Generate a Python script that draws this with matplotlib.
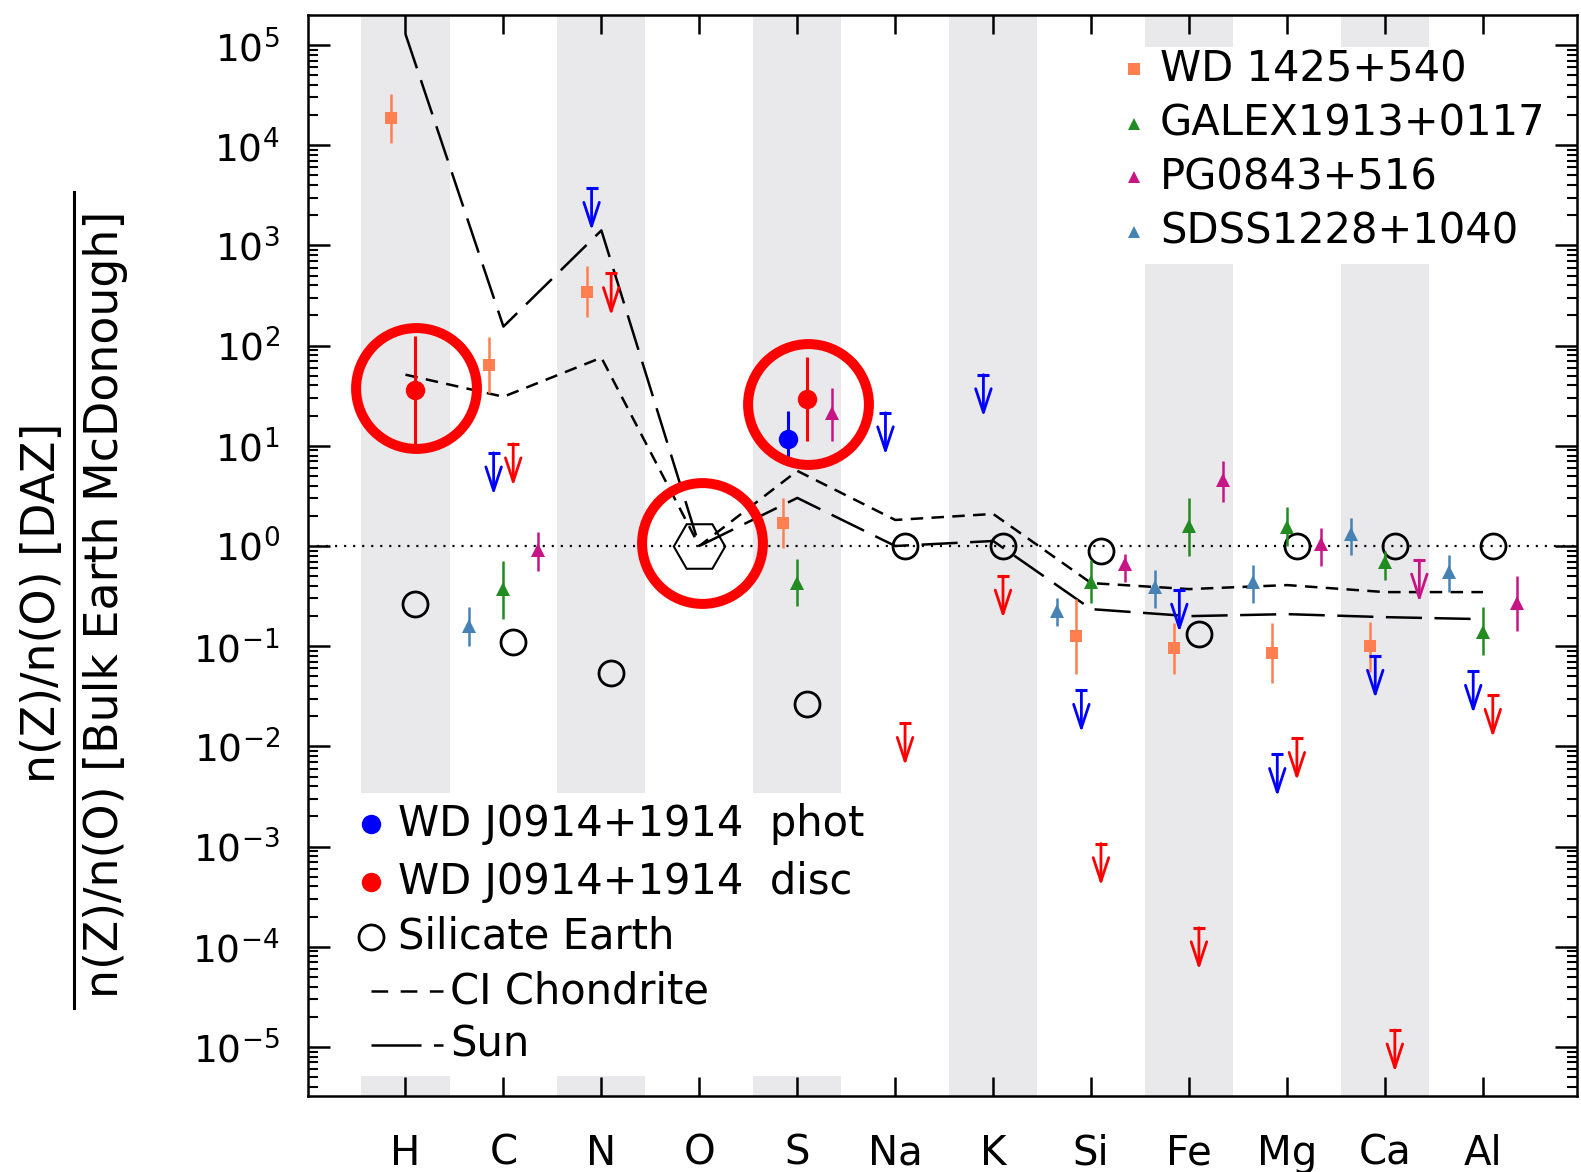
import numpy as np
import matplotlib
matplotlib.use('Agg')
import matplotlib.pyplot as plt
from matplotlib.lines import Line2D
from matplotlib.patches import Rectangle
from matplotlib.ticker import LogLocator, NullFormatter, LogFormatterMathtext, FixedLocator

plt.rcParams['font.family'] = ['DejaVu Sans']
plt.rcParams['mathtext.default'] = 'regular'
plt.rcParams['lines.scale_dashes'] = False

# element order along the x axis
elements = ['H', 'C', 'N', 'O', 'S', 'Na', 'K', 'Si', 'Fe', 'Mg', 'Ca', 'Al']
banded = ['H', 'N', 'S', 'K', 'Fe', 'Ca']

# all values are log10 of the ratio
ci_chondrite = [1.71, 1.49, 1.88, 0.0, 0.75, 0.26, 0.32, -0.37, -0.43, -0.39, -0.46, -0.46]
sun = [5.11, 2.19, 3.15, 0.0, 0.48, 0.0, 0.05, -0.63, -0.70, -0.68, -0.71, -0.73]

earth_el = ['H', 'C', 'N', 'S', 'Na', 'K', 'Si', 'Fe', 'Mg', 'Ca', 'Al']
earth_log = [-0.58, -0.96, -1.27, -1.58, 0.0, 0.0, -0.05, -0.88, 0.0, 0.0, 0.0]

# WD J0914+1914 disc
disc_el = ['H', 'S']
disc_log = [1.56, 1.47]
disc_hi = [0.54, 0.42]
disc_lo = [0.55, 0.42]
disc_lim_el = ['C', 'N', 'Na', 'K', 'Si', 'Fe', 'Mg', 'Ca', 'Al']
disc_lim = [1.02, 2.72, -1.77, -0.30, -2.97, -3.81, -1.92, -4.83, -1.49]

# WD J0914+1914 phot
phot_el = ['S']
phot_log = [1.07]
phot_hi = [0.28]
phot_lo = [0.20]
phot_lim_el = ['C', 'N', 'Na', 'K', 'Si', 'Fe', 'Mg', 'Ca', 'Al']
phot_lim = [0.93, 3.57, 1.33, 1.71, -1.44, -0.44, -2.08, -1.10, -1.25]

# WD 1425+540
wd1425_el = ['H', 'C', 'N', 'S', 'Si', 'Fe', 'Mg', 'Ca']
wd1425_log = [4.27, 1.81, 2.54, 0.23, -0.90, -1.02, -1.07, -1.00]
wd1425_hi = [0.24, 0.28, 0.25, 0.25, 0.37, 0.25, 0.30, 0.24]
wd1425_lo = [0.25, 0.28, 0.25, 0.25, 0.38, 0.26, 0.30, 0.26]

# GALEX1913+0117
galex_el = ['C', 'S', 'Si', 'Fe', 'Mg', 'Ca', 'Al']
galex_log = [-0.43, -0.37, -0.36, 0.20, 0.19, -0.16, -0.86]
galex_hi = [0.28, 0.24, 0.22, 0.28, 0.20, 0.11, 0.25]
galex_lo = [0.30, 0.23, 0.21, 0.30, 0.19, 0.18, 0.23]

# PG0843+516
pg_el = ['C', 'S', 'Si', 'Fe', 'Mg', 'Al']
pg_log = [-0.04, 1.33, -0.18, 0.66, 0.02, -0.57]
pg_hi = [0.18, 0.25, 0.10, 0.19, 0.16, 0.27]
pg_lo = [0.21, 0.28, 0.18, 0.22, 0.22, 0.28]
pg_lim_el = ['Ca']
pg_lim = [-0.14]

# SDSS1228+1040
sdss_el = ['C', 'Si', 'Fe', 'Mg', 'Ca', 'Al']
sdss_log = [-0.80, -0.65, -0.41, -0.36, 0.12, -0.26]
sdss_hi = [0.19, 0.13, 0.17, 0.17, 0.16, 0.17]
sdss_lo = [0.20, 0.15, 0.21, 0.21, 0.21, 0.20]

# red rings drawn round highlighted points
ring_el = ['H', 'O', 'S']
ring_log = [1.575, 0.035, 1.42]
ring_dx = [0.11, 0.03, 0.11]

decades = list(range(-5, 6))

xpos = {e: i for i, e in enumerate(elements)}

fig = plt.figure(figsize=(15.81, 11.72), dpi=100)
ax = fig.add_axes([0.1945, 0.0648, 0.803, 0.9224])
ax.set_yscale('log')

for e in banded:
    ax.axvspan(xpos[e] - 0.45, xpos[e] + 0.45, color='#e9e9ec', lw=0, zorder=0)
# legend areas blank out the bands
ax.add_patch(Rectangle((0, 0.0187), 0.49, 0.2612, transform=ax.transAxes,
                       color='white', lw=0, zorder=0.5))
ax.add_patch(Rectangle((0.63, 0.7696), 0.37, 0.2005, transform=ax.transAxes,
                       color='white', lw=0, zorder=0.5))

ax.axhline(1, color='black', lw=1.6, dashes=(1.5, 5), zorder=1)

xs = np.arange(len(elements))
ax.plot(xs, 10.0 ** np.array(ci_chondrite), color='black', lw=1.8, dashes=(9, 6), zorder=2)
ax.plot(xs, 10.0 ** np.array(sun), color='black', lw=1.8, dashes=(26, 9), zorder=2)

ax.plot(xpos['O'], 1.0, marker='H', ms=37, mfc='none', mec='black', mew=1.5, zorder=3)
ax.plot([xpos[e] + 0.1 for e in earth_el], 10.0 ** np.array(earth_log), 'o',
        ms=18, mfc='none', mec='black', mew=2, zorder=3)


def detections(els, logs, hi, lo, dx, color, marker, ms, elw=1.8):
    logs = np.array(logs)
    x = [xpos[e] + dx for e in els]
    y = 10.0 ** logs
    yerr = [y - 10.0 ** (logs - np.array(lo)), 10.0 ** (logs + np.array(hi)) - y]
    ax.errorbar(x, y, yerr=yerr, fmt=marker, color=color, ms=ms, mew=0,
                elinewidth=elw, capsize=0, zorder=4)


def upper_limits(els, logs, dx, color):
    for e, v in zip(els, logs):
        x = xpos[e] + dx
        ax.plot(x, 10.0 ** v, marker='_', ms=8, mew=2.2, color=color, zorder=4)
        ax.annotate('', xy=(x, 10.0 ** (v - 0.42)), xytext=(x, 10.0 ** v),
                    arrowprops=dict(arrowstyle='->,head_length=0.85,head_width=0.28',
                                    color=color, lw=2.0, shrinkA=0, shrinkB=0,
                                    mutation_scale=20), zorder=4)


detections(wd1425_el, wd1425_log, wd1425_hi, wd1425_lo, -0.15, '#ff7f50', 's', 9)
detections(galex_el, galex_log, galex_hi, galex_lo, 0.0, '#228b22', '^', 10)
detections(pg_el, pg_log, pg_hi, pg_lo, 0.35, '#c71585', '^', 10)
detections(sdss_el, sdss_log, sdss_hi, sdss_lo, -0.35, '#4682b4', '^', 10)
detections(phot_el, phot_log, phot_hi, phot_lo, -0.1, '#0000ff', 'o', 14, 2.2)
detections(disc_el, disc_log, disc_hi, disc_lo, 0.1, '#ff0000', 'o', 14, 2.2)
upper_limits(phot_lim_el, phot_lim, -0.1, '#0000ff')
upper_limits(disc_lim_el, disc_lim, 0.1, '#ff0000')
upper_limits(pg_lim_el, pg_lim, 0.35, '#c71585')

ax.plot([xpos[e] + d for e, d in zip(ring_el, ring_dx)], 10.0 ** np.array(ring_log), 'o',
        ms=87, mfc='none', mec='#ff0000', mew=7.2, zorder=6)

ax.set_xlim(-1, 11.96)
ax.set_ylim(10 ** -5.49, 10 ** 5.30)
ax.set_xticks(xs)
ax.set_xticklabels(elements, fontsize=29)
ax.yaxis.set_major_locator(FixedLocator([10.0 ** d for d in decades]))
ax.yaxis.set_major_formatter(LogFormatterMathtext())
ax.yaxis.set_minor_locator(LogLocator(base=10, subs=np.arange(2, 10) * 1.0, numticks=200))
ax.yaxis.set_minor_formatter(NullFormatter())
ax.tick_params(axis='x', which='major', direction='in', length=14, width=1.8,
               top=True, bottom=True, pad=27)
ax.tick_params(axis='y', which='major', direction='in', length=16, width=1.8,
               left=True, right=True, labelsize=27, pad=20)
ax.tick_params(axis='y', which='minor', direction='in', length=7, width=1.5,
               left=True, right=True)
for s in ax.spines.values():
    s.set_linewidth(1.8)

# y label written as a fraction
fig.text(0.0268, 0.4855, 'n(Z)/n(O) [DAZ]', rotation=90, ha='center', va='center', fontsize=33)
fig.text(0.067, 0.484, 'n(Z)/n(O) [Bulk Earth McDonough]', rotation=90,
         ha='center', va='center', fontsize=33)
fig.add_artist(Line2D([0.0466, 0.0466], [0.14, 0.8365], color='black', lw=2.2,
                      transform=fig.transFigure))

# lower-left legend
low_y = [0.2519, 0.1978, 0.1474, 0.0970, 0.0476]
tr = ax.transAxes
ax.plot(0.0499, low_y[0], 'o', ms=14, color='#0000ff', mew=0, transform=tr, zorder=7)
ax.text(0.0713, low_y[0], 'WD J0914+1914  phot', fontsize=30, va='center', transform=tr)
ax.plot(0.0499, low_y[1], 'o', ms=14, color='#ff0000', mew=0, transform=tr, zorder=7)
ax.text(0.0713, low_y[1], 'WD J0914+1914  disc', fontsize=30, va='center', transform=tr)
ax.plot(0.0499, low_y[2], 'o', ms=18, mfc='none', mec='black', mew=2, transform=tr, zorder=7)
ax.text(0.0713, low_y[2], 'Silicate Earth', fontsize=30, va='center', transform=tr)
ax.plot([0.0499, 0.1069], [low_y[3]] * 2, color='black', lw=1.8, dashes=(12, 9), transform=tr)
ax.text(0.1124, low_y[3], 'CI Chondrite', fontsize=30, va='center', transform=tr)
ax.plot([0.0499, 0.1069], [low_y[4]] * 2, color='black', lw=1.8, dashes=(36, 9), transform=tr)
ax.text(0.1124, low_y[4], 'Sun', fontsize=30, va='center', transform=tr)

# upper-right legend
up_y = [0.9496, 0.8993, 0.8498, 0.7994]
up_labels = ['WD 1425+540', 'GALEX1913+0117', 'PG0843+516', 'SDSS1228+1040']
up_markers = ['s', '^', '^', '^']
up_colors = ['#ff7f50', '#228b22', '#c71585', '#4682b4']
for yy, lab, m, c in zip(up_y, up_labels, up_markers, up_colors):
    ax.plot(0.6508, yy, m, ms=9, color=c, mew=0, transform=tr, zorder=7)
    ax.text(0.6714, yy, lab, fontsize=30, va='center', transform=tr)

fig.savefig('out.png', dpi=100)
